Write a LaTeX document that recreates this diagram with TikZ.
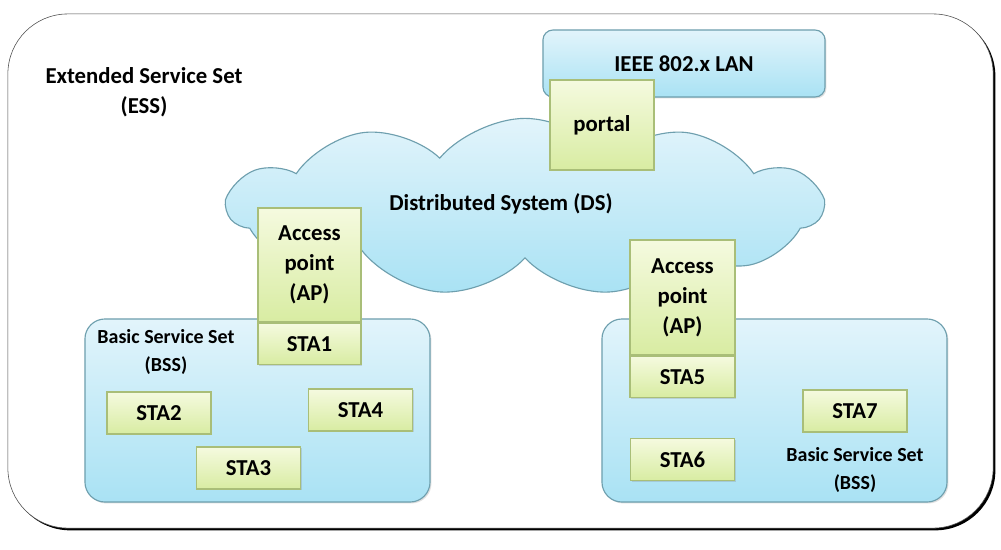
\documentclass[tikz,border=0pt]{standalone}
\usepackage{fontspec}
\setmainfont{Carlito}
\usetikzlibrary{positioning,shapes.symbols,shadows}

\definecolor{boxgreentop}{HTML}{F5FADF}
\definecolor{boxgreenbot}{HTML}{D8ECA2}
\definecolor{boxgreenline}{HTML}{A9BE78}
\definecolor{setbluetop}{HTML}{E2F4FB}
\definecolor{setbluebot}{HTML}{A9E2F4}
\definecolor{setblueline}{HTML}{6E9FAE}

\begin{document}
\begin{tikzpicture}[
    x=0.025cm, y=-0.025cm,
    font=\fontsize{16.2}{21.3}\selectfont\bfseries,
    station/.style={rectangle, draw=boxgreenline, thick, top color=boxgreentop, bottom color=boxgreenbot,
        minimum width=2.6cm, minimum height=1.05cm, inner sep=0pt, align=center,
        drop shadow={shadow xshift=1pt, shadow yshift=-1pt, opacity=0.25}},
    setbox/.style={rectangle, rounded corners=0.5cm, draw=setblueline, thick, top color=setbluetop, bottom color=setbluebot,
        minimum width=8.625cm, minimum height=4.575cm,
        drop shadow={shadow xshift=1pt, shadow yshift=-1pt, opacity=0.25}},
    setlabel/.style={align=center, font=\fontsize{14.2}{19.5}\selectfont\bfseries}
]

% Main container
\useasboundingbox (0,0) rectangle (1001,549);
\node[rectangle, rounded corners=1.5cm, draw=black!70, fill=white, minimum width=24.625cm, minimum height=12.85cm,
    drop shadow={shadow xshift=1.6pt, shadow yshift=-1.6pt, opacity=1, fill=black}] (ess) at (500.5,271) {};
\node[align=center] (esslabel) at (144,92) {Extended Service Set\\(ESS)};

% Wired side
\node[setbox, rounded corners=0.25cm, minimum width=7.05cm, minimum height=1.675cm] (lan) at (684,63.5) {IEEE 802.x LAN};
\node[cloud, cloud puffs=11, cloud puff arc=100, aspect=3.3, draw=setblueline, thick, top color=setbluetop, bottom color=setbluebot,
    minimum width=14.85cm, minimum height=4.43cm] (ds) at (525,207) {};
\node (dslabel) at (501,204) {Distributed System (DS)};
\node[station, minimum height=2.25cm] (portal) at (602,125) {portal};

% Basic service sets
\node[setbox] (bss1) at (257.5,410.5) {};
\node[setbox] (bss2) at (774.5,410.5) {};
\node[setlabel] (bss1label) at (166,352) {Basic Service Set\\(BSS)};
\node[setlabel] (bss2label) at (855,470) {Basic Service Set\\(BSS)};

% Access points
\node[station, minimum width=2.575cm, minimum height=2.85cm] (ap1) at (309.5,265) {Access\\point\\(AP)};
\node[station, minimum width=2.575cm, minimum height=1.025cm, below=0pt of ap1] (sta1) {STA1};
\node[station, minimum width=2.625cm, minimum height=2.875cm] (ap2) at (682.5,297.5) {Access\\point\\(AP)};
\node[station, minimum width=2.625cm, minimum height=1.025cm, below=0pt of ap2] (sta5) {STA5};

% Stations
\node[station] (sta2) at (159,413) {STA2};
\node[station] (sta3) at (248.5,468) {STA3};
\node[station] (sta4) at (360.5,410) {STA4};
\node[station] (sta6) at (682.5,459.5) {STA6};
\node[station] (sta7) at (855,411) {STA7};

\end{tikzpicture}
\end{document}
